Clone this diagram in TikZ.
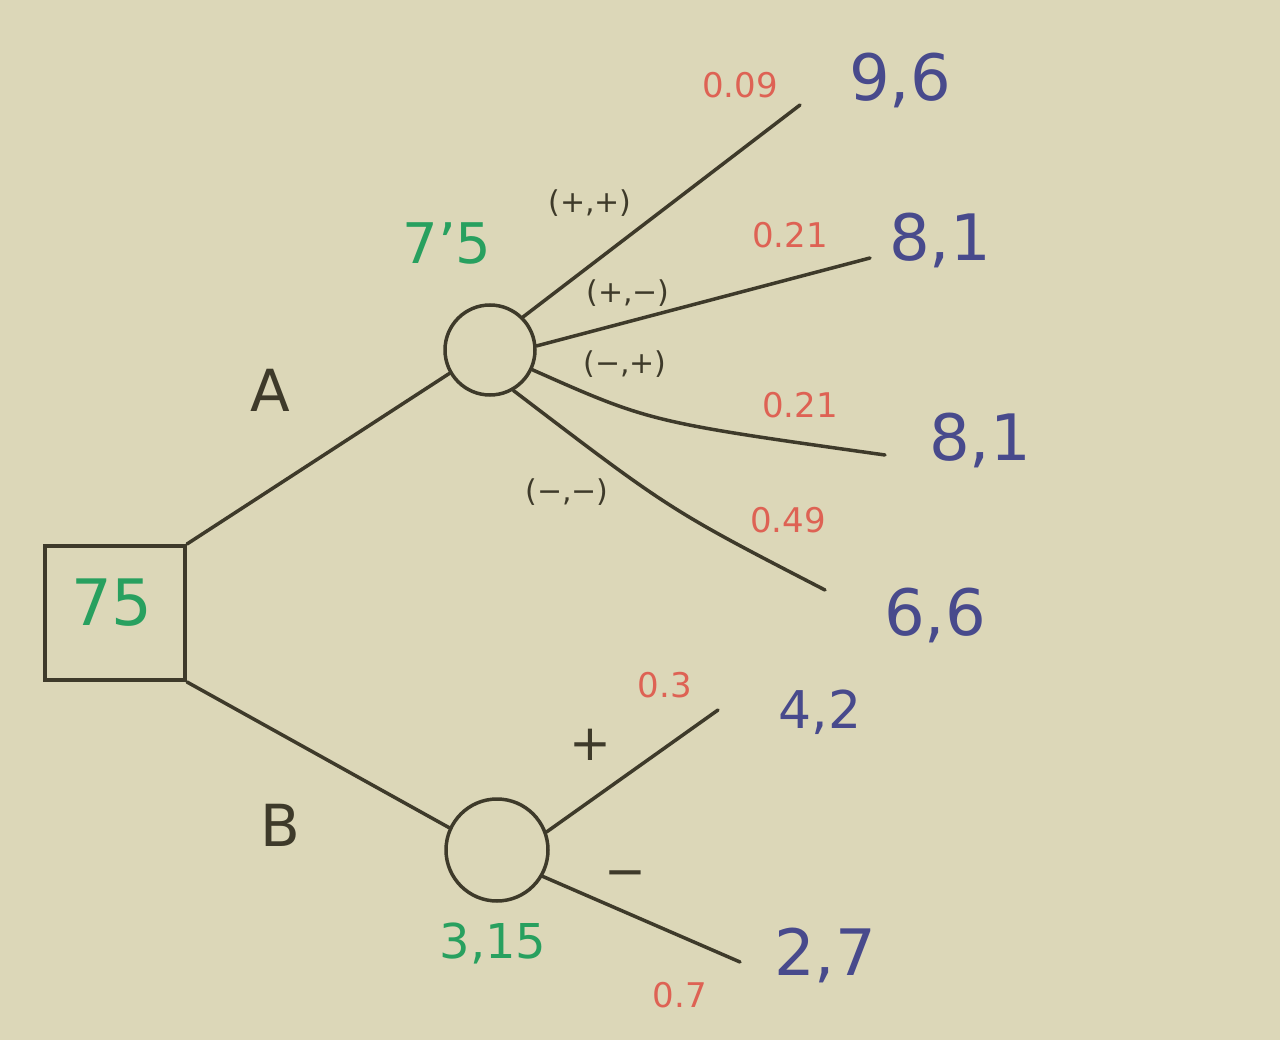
\documentclass[tikz,border=0pt]{standalone}
\usepackage{fontspec}
\setmainfont{DejaVu Sans}
\definecolor{paper}{RGB}{220,215,184}
\definecolor{ink}{RGB}{62,58,42}
\definecolor{gr}{RGB}{40,160,95}
\definecolor{rd}{RGB}{222,98,84}
\definecolor{bl}{RGB}{72,74,140}
\begin{document}
\begin{tikzpicture}[x=1pt,y=-1pt,
  conn/.style={draw=ink,line width=3.5pt,line cap=round},
  chance/.style={circle,draw=ink,line width=3.5pt,inner sep=0pt},
  decision/.style={rectangle,draw=ink,line width=4pt,inner sep=0pt,minimum width=140pt,minimum height=134pt},
  pay/.style={text=bl,font=\fontsize{64}{70}\selectfont,inner sep=0pt},
  prob/.style={text=rd,font=\fontsize{34}{38}\selectfont,inner sep=0pt},
  val/.style={text=gr,font=\fontsize{56}{62}\selectfont,inner sep=0pt},
  blab/.style={text=ink,font=\fontsize{30}{34}\selectfont,inner sep=0pt},
  big/.style={text=ink,font=\fontsize{58}{64}\selectfont,inner sep=0pt}]
\fill[paper] (0,0) rectangle (1280,1040);
\useasboundingbox (0,0) rectangle (1280,1040);
% nodes
\node[decision] (root) at (115,613) {};
\node[val,font=\fontsize{64}{70}\selectfont] (rootv) at (112,603) {75};
\node[chance,minimum size=90pt] (cA) at (490,350) {};
\node[chance,minimum size=102pt] (cB) at (497,850) {};
\node[val] (vA) at (447,243) {7'5};
\node[val,font=\fontsize{48}{54}\selectfont] (vB) at (493,943) {3,15};
\node[big] (lA) at (270,390) {A};
\node[big] (lB) at (280,825) {B};
% end points
\coordinate (e1) at (800,105);
\coordinate (e2) at (870,258);
\coordinate (e3) at (885,455);
\coordinate (e4) at (825,590);
\coordinate (e5) at (718,710);
\coordinate (e6) at (740,962);
% connectors
\draw[conn] (root.north east) -- (cA.210);
\draw[conn] (root.south east) -- (cB.155);
\draw[conn] (cA.45) -- (e1);
\draw[conn] (cA.5) -- (e2);
\draw[conn] (cA.-25) .. controls (650,422) .. (e3);
\draw[conn] (cA.-60) .. controls (670,510) .. (e4);
\draw[conn] (cB.20) -- (e5);
\draw[conn] (cB.-30) -- (e6);
% branch labels
\node[blab] (b1) at (590,203) {(+,+)};
\node[blab] (b2) at (628,293) {(+,−)};
\node[blab] (b3) at (625,364) {(−,+)};
\node[blab] (b4) at (567,492) {(−,−)};
\node[big,font=\fontsize{50}{54}\selectfont] (b5) at (590,745) {+};
\node[big,font=\fontsize{50}{54}\selectfont] (b6) at (625,880) {−};
% probabilities
\node[prob] (p1) at (740,85) {0.09};
\node[prob] (p2) at (790,235) {0.21};
\node[prob] (p3) at (800,405) {0.21};
\node[prob] (p4) at (788,520) {0.49};
\node[prob] (p5) at (665,685) {0.3};
\node[prob] (p6) at (680,995) {0.7};
% payoffs
\node[pay] (o1) at (900,80) {9,6};
\node[pay] (o2) at (940,240) {8,1};
\node[pay] (o3) at (980,440) {8,1};
\node[pay] (o4) at (935,615) {6,6};
\node[pay,font=\fontsize{52}{58}\selectfont] (o5) at (820,712) {4,2};
\node[pay] (o6) at (825,955) {2,7};
\end{tikzpicture}
\end{document}
